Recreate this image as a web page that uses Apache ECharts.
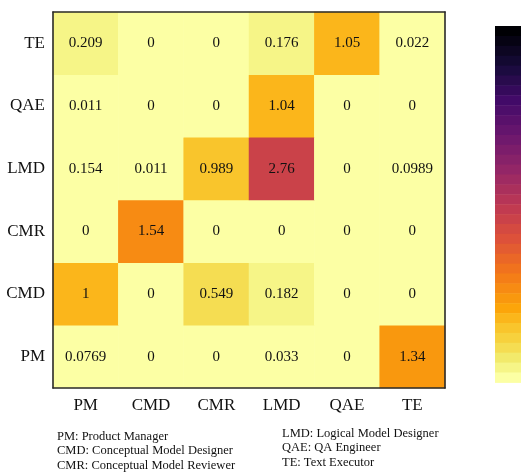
<!DOCTYPE html>
<html>
<head>
<meta charset="utf-8">
<script src="https://cdn.jsdelivr.net/npm/echarts@6/dist/echarts.min.js"></script>
<style>
html,body{margin:0;padding:0;background:#fff;}
#chart{width:521px;height:473px;}
</style>
</head>
<body>
<div id="chart"></div>
<script>
// ---- data ----
var xCategories = ['PM', 'CMD', 'CMR', 'LMD', 'QAE', 'TE'];
var yCategories = ['PM', 'CMD', 'CMR', 'LMD', 'QAE', 'TE'];
// rows listed bottom (PM) to top (TE), columns PM..TE
var rowPM  = [0.0769, 0, 0, 0.033, 0, 1.34];
var rowCMD = [1, 0, 0.549, 0.182, 0, 0];
var rowCMR = [0, 1.54, 0, 0, 0, 0];
var rowLMD = [0.154, 0.011, 0.989, 2.76, 0, 0.0989];
var rowQAE = [0.011, 0, 0, 1.04, 0, 0];
var rowTE  = [0.209, 0, 0, 0.176, 1.05, 0.022];
var legendLeft = ['PM: Product Manager', 'CMD: Conceptual Model Designer', 'CMR: Conceptual Model Reviewer'];
var legendRight = ['LMD: Logical Model Designer', 'QAE: QA Engineer', 'TE: Text Executor'];
var colorMin = 0;
var colorMax = 6;
var colorBins = 36;

// ---- build ----
var rows = [rowPM, rowCMD, rowCMR, rowLMD, rowQAE, rowTE];
var data = [];
rows.forEach(function (r, yi) {
  r.forEach(function (v, xi) { data.push([xi, yi, v]); });
});

var infernoStops = [
  [0.0, '#000004'], [0.1, '#160b39'], [0.2, '#420a68'], [0.3, '#6a176e'],
  [0.4, '#932667'], [0.5, '#bc3754'], [0.6, '#dd513a'], [0.7, '#f37819'],
  [0.8, '#fca50a'], [0.85, '#fac228'], [0.9, '#f6d746'], [0.95, '#f1ed71'], [1.0, '#fcffa4']
];
function hex2rgb(h){return [parseInt(h.substr(1,2),16),parseInt(h.substr(3,2),16),parseInt(h.substr(5,2),16)];}
function inferno(t){
  t = Math.max(0, Math.min(1, t));
  var k = 0;
  while (k < infernoStops.length - 2 && t > infernoStops[k + 1][0]) k++;
  var s0 = infernoStops[k], s1 = infernoStops[k + 1];
  var f = (t - s0[0]) / (s1[0] - s0[0]);
  var a = hex2rgb(s0[1]), b = hex2rgb(s1[1]);
  return 'rgb(' + [0,1,2].map(function(j){return Math.round(a[j] + (b[j]-a[j])*f);}).join(',') + ')';
}
var pieces = [];
for (var i = 0; i < colorBins; i++) {
  var lo = colorMin + (i * (colorMax - colorMin)) / colorBins;
  var hi = colorMin + ((i + 1) * (colorMax - colorMin)) / colorBins;
  var piece = { gte: lo, color: inferno(1 - i / (colorBins - 1)) };
  if (i < colorBins - 1) piece.lt = hi; else piece.lte = hi;
  pieces.push(piece);
}

var serif = "'Liberation Serif', 'Times New Roman', serif";
var chart = echarts.init(document.getElementById('chart'), null, {renderer: 'canvas'});

var graphics = [];
legendLeft.forEach(function (t, k) {
  graphics.push({ type: 'text', left: 57, top: 430 + k * 14.5,
    style: { text: t, font: '12.5px ' + serif, fill: '#111' } });
});
legendRight.forEach(function (t, k) {
  graphics.push({ type: 'text', left: 282, top: 427 + k * 14.5,
    style: { text: t, font: '12.5px ' + serif, fill: '#111' } });
});

var lineStyle = { color: '#2a2a2a', width: 1.6 };
chart.setOption({
  backgroundColor: '#fff',
  animation: false,
  grid: { left: 53, top: 12, width: 392, height: 376, containLabel: false },
  xAxis: [
    { type: 'category', data: xCategories, position: 'bottom',
      axisLine: { show: true, lineStyle: lineStyle }, axisTick: { show: false },
      axisLabel: { fontFamily: serif, fontSize: 17, color: '#111', margin: 9 },
      splitLine: { show: false }, z: 10 },
    { type: 'category', data: xCategories, position: 'top',
      axisLine: { show: true, lineStyle: lineStyle }, axisTick: { show: false },
      axisLabel: { show: false }, splitLine: { show: false }, z: 10 }
  ],
  yAxis: [
    { type: 'category', data: yCategories, position: 'left',
      axisLine: { show: true, lineStyle: lineStyle }, axisTick: { show: false },
      axisLabel: { fontFamily: serif, fontSize: 17, color: '#111', margin: 8 },
      splitLine: { show: false }, z: 10 },
    { type: 'category', data: yCategories, position: 'right',
      axisLine: { show: true, lineStyle: lineStyle }, axisTick: { show: false },
      axisLabel: { show: false }, splitLine: { show: false }, z: 10 }
  ],
  visualMap: {
    type: 'piecewise',
    pieces: pieces,
    orient: 'vertical',
    left: 495, top: 26,
    padding: 0,
    itemWidth: 26, itemHeight: 10.4, itemGap: -0.5,
    itemSymbol: 'path://M0,0H10V10H0Z',
    showLabel: false,
    selectedMode: false,
    hoverLink: false,
    seriesIndex: 0
  },
  series: [{
    type: 'heatmap',
    data: data,
    xAxisIndex: 0, yAxisIndex: 0,
    label: { show: true, fontFamily: serif, fontSize: 15, color: '#111',
      formatter: function (p) { return String(p.value[2]); } },
    itemStyle: { borderWidth: 0 },
    emphasis: { disabled: true }
  }],
  graphic: graphics
});
</script>
</body>
</html>
